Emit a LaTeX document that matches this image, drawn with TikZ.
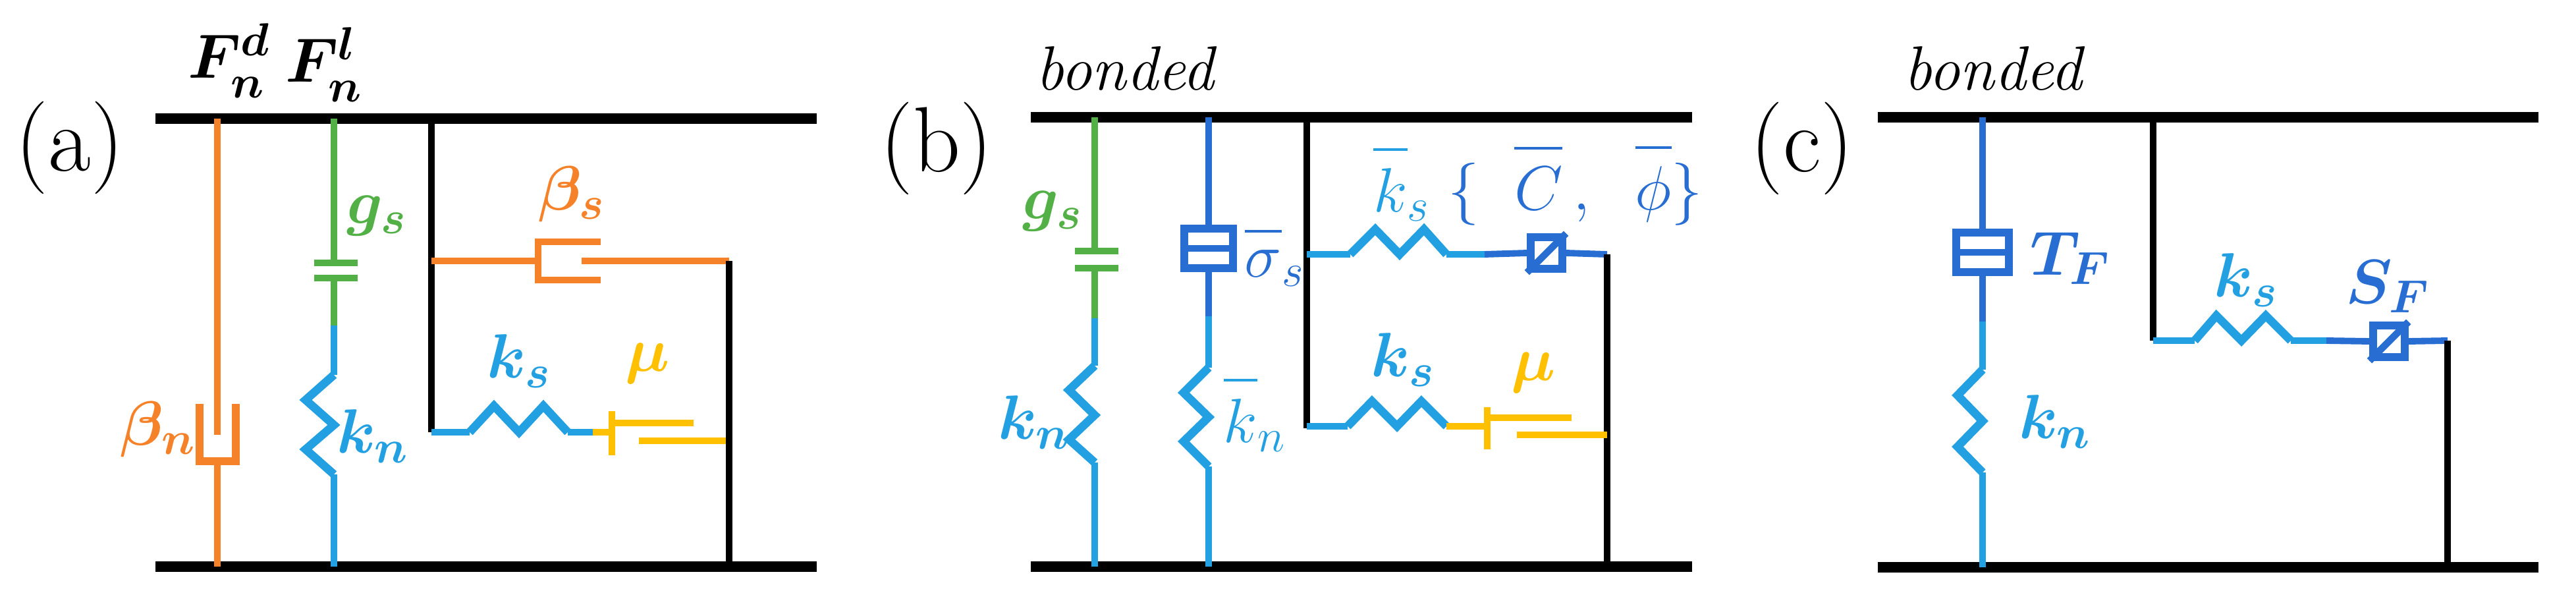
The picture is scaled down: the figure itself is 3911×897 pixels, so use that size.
\RequirePackage{fix-cm}
\documentclass[tikz,border=0pt]{standalone}
\usepackage{amsmath}
\DeclareMathSizes{27}{27}{20}{15}
\definecolor{orng}{RGB}{245,130,40}
\definecolor{grn}{RGB}{82,176,70}
\definecolor{lblue}{RGB}{35,160,225}
\definecolor{dblue}{RGB}{40,110,210}
\definecolor{ylw}{RGB}{255,192,0}
\newcommand{\ovl}[1]{\leavevmode\vbox{\hrule height 1.2pt\kern 7.5pt\hbox{#1}}}
\tikzset{bar/.style={line width=4.8pt},
         wire/.style={line width=2.8pt},
         spring/.style={line width=3.6pt, line join=miter},
         plate/.style={line width=3pt},
         cell/.style={draw, line width=3.2pt, minimum width=0.74cm, minimum height=0.6cm, inner sep=0pt},
         slider/.style={draw, line width=3.2pt, minimum size=0.48cm, inner sep=0pt},
         panel/.style={font=\fontsize{40}{44}\selectfont},
         tag/.style={font=\fontsize{27}{29}\selectfont, inner sep=0pt}}

\begin{document}
\begin{tikzpicture}[x=0.01cm, y=-0.01cm]
    \useasboundingbox (0,0) rectangle (3911,897);

    % (a)
    \node[panel](pa)at(106,224){(a)};
    \node[tag](Fd)at(348,92){$\boldsymbol{F^d_n}$};
    \node[tag](Fl)at(492,98){$\boldsymbol{F^l_n}$};
    \coordinate(a1)at(236,180); \coordinate(a2)at(1240,180);
    \coordinate(a3)at(236,860); \coordinate(a4)at(1240,860);
    \draw[bar](a1)--(a2);
    \draw[bar](a3)--(a4);

    \draw[wire,orng](330,180)--(330,660);
    \draw[spring,orng](303,613)--(303,700)--(358,700)--(358,613);
    \draw[wire,orng](330,700)--(330,860);
    \node[tag,orng](bn)at(240,652){$\boldsymbol{\beta_n}$};

    \draw[wire,grn](507,180)--(507,399);
    \draw[plate,grn](477,399)--(543,399);
    \draw[plate,grn](477,422)--(543,422);
    \draw[wire,grn](507,422)--(507,494);
    \draw[wire,lblue](507,494)--(507,569);
    \draw[spring,lblue](507,569)--(464,607)--(507,645)--(464,682)--(507,720);
    \draw[wire,lblue](507,720)--(507,860);
    \node[tag,grn](gs)at(572,328){$\boldsymbol{g_s}$};
    \node[tag,lblue](kn)at(566,662){$\boldsymbol{k_n}$};

    \draw[wire](655,180)--(655,656);
    \draw[wire,orng](655,396)--(817,396);
    \draw[plate,orng](912,367)--(817,367)--(817,425)--(912,425);
    \draw[wire,orng](883,396)--(1107,396);
    \node[tag,orng](bs)at(868,295){$\boldsymbol{\beta_s}$};

    \draw[wire,lblue](655,656)--(713,656);
    \draw[spring,lblue](713,656)--(750,616)--(788,656)--(825,616)--(862,656);
    \draw[wire,lblue](862,656)--(900,656);
    \draw[wire,ylw](900,656)--(929,656);
    \draw[plate,ylw](929,624)--(929,691);
    \draw[plate,ylw](929,642)--(1053,642);
    \draw[plate,ylw](970,669)--(1107,669);
    \draw[wire](1107,396)--(1107,860);
    \node[tag,lblue](ks)at(788,548){$\boldsymbol{k_s}$};
    \node[tag,ylw](mu)at(983,552){$\boldsymbol{\mu}$};

    % (b)
    \node[panel](pb)at(1422,225){(b)};
    \node[tag](bb)at(1710,104){\textit{bonded}};
    \coordinate(b1)at(1565,178); \coordinate(b2)at(2569,178);
    \coordinate(b3)at(1565,860); \coordinate(b4)at(2569,860);
    \draw[bar](b1)--(b2);
    \draw[bar](b3)--(b4);

    \draw[wire,grn](1662,178)--(1662,381);
    \draw[plate,grn](1632,381)--(1698,381);
    \draw[plate,grn](1632,407)--(1698,407);
    \draw[wire,grn](1662,407)--(1662,483);
    \draw[wire,lblue](1662,483)--(1662,555);
    \draw[spring,lblue](1662,555)--(1623,592)--(1662,630)--(1623,667)--(1662,702);
    \draw[wire,lblue](1662,702)--(1662,860);
    \node[tag,grn](gsb)at(1598,321){$\boldsymbol{g_s}$};
    \node[tag,lblue](knb)at(1570,641){$\boldsymbol{k_n}$};

    \node[cell,dblue](tb)at(1835,377){};
    \draw[plate,dblue](tb.west)--(tb.east);
    \draw[wire,dblue](1835,178)--(tb.north);
    \draw[wire,dblue](tb.south)--(1835,480);
    \draw[wire,lblue](1835,480)--(1835,558);
    \draw[spring,lblue](1835,558)--(1797,596)--(1835,633)--(1797,670)--(1835,708);
    \draw[wire,lblue](1835,708)--(1835,860);
    \node[tag,dblue](sgb)at(1935,392){$\ovl{$\sigma$}_s$};
    \node[tag,lblue](knbb)at(1905,630){$\ovl{$k$}_n$};

    \draw[wire](1984,178)--(1984,650);
    \draw[wire,lblue](1984,386)--(2050,386);
    \draw[spring,lblue](2050,386)--(2088,348)--(2125,386)--(2162,348)--(2196,386);
    \draw[wire,lblue](2196,386)--(2254,386);
    \node[slider,dblue](sb)at(2348,384){};
    \draw[plate,dblue](sb.south west)--(sb.north east);
    \draw[wire,dblue](2254,386)--(sb.west);
    \draw[wire,dblue](sb.east)--(2440,386);
    \draw[wire](2440,386)--(2440,860);
    \node[tag,lblue](ksbb)at(2128,280){$\ovl{$k$}_s$};
    \node[tag,dblue](cpb)at(2392,282){$\{\;\;\ovl{$C$}\,,\;\;\ovl{$\phi$}\}$};

    \draw[wire,lblue](1984,647)--(2046,647);
    \draw[spring,lblue](2046,647)--(2083,609)--(2121,647)--(2158,609)--(2196,647);
    \draw[wire,ylw](2196,647)--(2258,647);
    \draw[plate,ylw](2258,618)--(2258,682);
    \draw[plate,ylw](2258,634)--(2386,634);
    \draw[plate,ylw](2303,660)--(2440,660);
    \node[tag,lblue](ksb)at(2130,546){$\boldsymbol{k_s}$};
    \node[tag,ylw](mub)at(2328,566){$\boldsymbol{\mu}$};

    % (c)
    \node[panel](pc)at(2736,225){(c)};
    \node[tag](bc)at(3028,104){\textit{bonded}};
    \coordinate(c1)at(2851,178); \coordinate(c2)at(3854,178);
    \coordinate(c3)at(2851,861); \coordinate(c4)at(3854,861);
    \draw[bar](c1)--(c2);
    \draw[bar](c3)--(c4);

    \node[cell,dblue,minimum width=0.8cm](tc)at(3010,383){};
    \draw[plate,dblue](tc.west)--(tc.east);
    \draw[wire,dblue](3010,178)--(tc.north);
    \draw[wire,dblue](tc.south)--(3010,488);
    \draw[wire,lblue](3010,488)--(3010,561);
    \draw[spring,lblue](3010,561)--(2972,600)--(3010,639)--(2972,678)--(3010,717);
    \draw[wire,lblue](3010,717)--(3010,861);
    \node[tag,dblue](tf)at(3143,392){$\boldsymbol{T_F}$};
    \node[tag,lblue](knc)at(3120,640){$\boldsymbol{k_n}$};

    \draw[wire](3269,178)--(3269,517);
    \draw[wire,lblue](3269,517)--(3332,517);
    \draw[spring,lblue](3332,517)--(3365,479)--(3403,517)--(3440,479)--(3478,517);
    \draw[wire,lblue](3478,517)--(3532,517);
    \node[slider,dblue](sc)at(3627,518){};
    \draw[plate,dblue](sc.south west)--(sc.north east);
    \draw[wire,dblue](3532,517)--(sc.west);
    \draw[wire,dblue](sc.east)--(3716,517);
    \draw[wire](3716,517)--(3716,861);
    \node[tag,lblue](ksc)at(3410,425){$\boldsymbol{k_s}$};
    \node[tag,dblue](sf)at(3625,435){$\boldsymbol{S_F}$};
\end{tikzpicture}
\end{document}
